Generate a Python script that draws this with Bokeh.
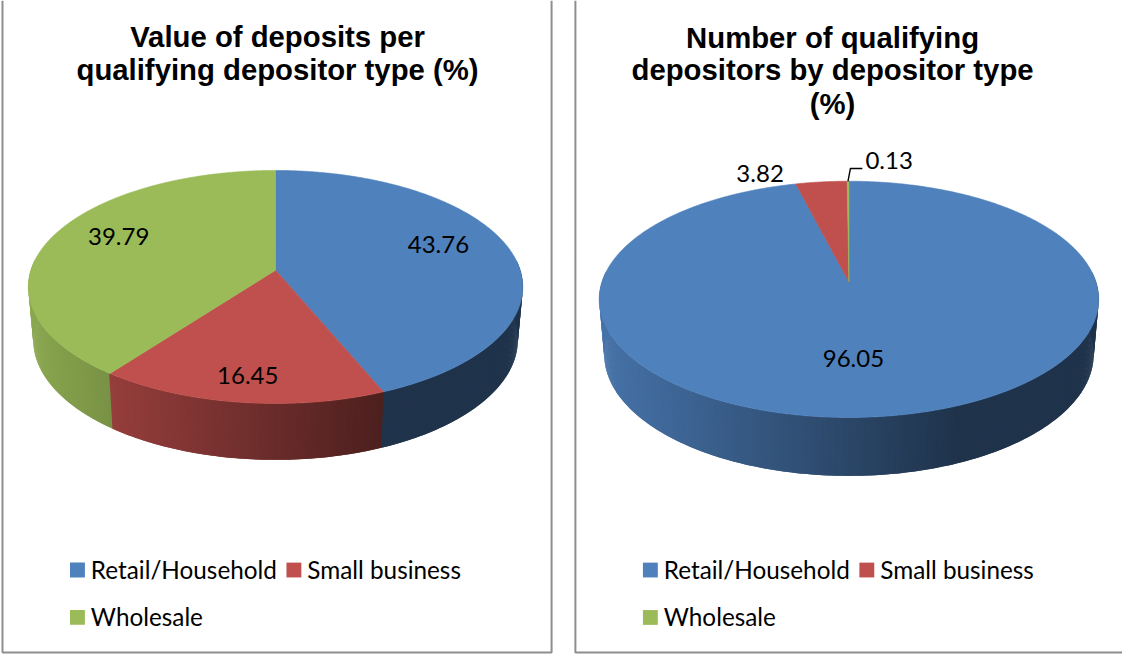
import numpy as np
from bokeh.embed import file_html
from bokeh.models import Range1d
from bokeh.plotting import figure
from bokeh.resources import INLINE
from bokeh.core.properties import value

categories = ["Retail/Household", "Small business", "Wholesale"]
value_share = [43.76, 16.45, 39.79]
number_share = [96.05, 3.82, 0.13]
colors = ["#4F81BD", "#C0504D", "#9BBB59"]
title_left = ["Value of deposits per", "qualifying depositor type (%)"]
title_right = ["Number of qualifying", "depositors by depositor type", "(%)"]
label_left = ["43.76", "16.45", "39.79"]
label_right = ["96.05", "3.82", "0.13"]

p = figure(width=1122, height=654, x_range=Range1d(0, 1130), y_range=Range1d(662, 0),
           toolbar_location=None, output_backend="svg", min_border=0,
           outline_line_color=None, background_fill_color="white")
p.axis.visible = False
p.grid.visible = False

BORDER = "#8E8E8E"
p.line([2, 2, 555, 555], [0, 660, 660, 0], line_color=BORDER, line_width=2)
p.line([579, 579, 1130], [0, 660, 660], line_color=BORDER, line_width=2)


def shade(hex_color, f):
    r, g, b = (int(hex_color[i:i + 2], 16) for i in (1, 3, 5))
    return "#%02x%02x%02x" % (int(r * f), int(g * f), int(b * f))


def project(theta_deg, cx, y0, a, b, k):
    t = np.radians(theta_deg)
    u, v = np.sin(t), -np.cos(t)
    s = 1 / (1 - k * v)
    return cx + b * u * s, y0 + a * v * s


def pie(vals, cx, y0, a, b, k, dy):
    edges = np.concatenate([[0], np.cumsum(vals)]) / sum(vals) * 360
    xl = cx - b * 1.012
    w = 2 * b * 1.012
    # side wall, painted as overlapping thin strips so that it darkens from left to right
    sx, sy, sc = [], [], []
    step = 0.5
    for t0 in np.arange(85, 275, step):
        idx = int(np.searchsorted(edges, t0 + step / 2) - 1)
        t1 = t0 + 2 * step  # runs under the strip painted next, which hides the overlap
        x0, y_0 = project(t0, cx, y0, a, b, k)
        x1, y_1 = project(t1, cx, y0, a, b, k)
        x2, y_2 = project(t1, cx, y0 + dy, a * 1.03, b * 0.98, k)
        x3, y_3 = project(t0, cx, y0 + dy, a * 1.03, b * 0.98, k)
        xm = (x0 + x3) / 2
        f = max(0.40, 0.90 - 0.50 * (xm - xl) / (0.717 * w))
        sx.append([x0, x1, x2, x3])
        sy.append([y_0, y_1, y_2, y_3])
        sc.append(shade(colors[idx], f))
    p.patches(sx, sy, fill_color=sc, line_color=None)
    # top face
    fx, fy = [], []
    for i in range(len(vals)):
        ts = np.linspace(edges[i], edges[i + 1], max(3, int((edges[i + 1] - edges[i]) * 2)))
        xs, ys = project(ts, cx, y0, a, b, k)
        fx.append(np.concatenate([[cx], xs]).tolist())
        fy.append(np.concatenate([[y0], ys]).tolist())
    p.patches(fx, fy, fill_color=colors, line_color=colors, line_width=0.6)


pie(value_share, 277, 273, 115.5, 246.4, 0.144, 53)
pie(number_share, 854.5, 285, 117, 248.8, 0.1465, 55)

LABEL_FONT = value("Lato")
TITLE_FONT = value("Liberation Sans")


def texts(xs, ys, strs, size, font, align="center", weight="normal"):
    p.text(xs, ys, text=strs, text_font=font, text_font_size=size,
           text_font_style=weight, text_align=align, text_baseline="middle",
           text_color="black")


texts([279, 279], [36, 70], title_left, "29.3px", TITLE_FONT, weight="bold")
texts([838, 838, 838], [37, 70, 104], title_right, "29.3px", TITLE_FONT, weight="bold")

texts([441, 249, 119], [247, 380, 239], label_left, "24px", LABEL_FONT)
texts([859, 765, 895], [362, 175, 162], label_right, "24px", LABEL_FONT)
p.line([853.5, 856, 868], [183, 170, 170], line_color="black", line_width=1.4)

for x_sq in (70, 647):
    sq_x = [x_sq, x_sq + 218, x_sq]
    sq_y = [569, 569, 617]
    p.quad(left=sq_x, right=[x + 15 for x in sq_x], top=sq_y, bottom=[y + 15 for y in sq_y],
           fill_color=colors, line_color=None)
    texts([x + 21 for x in sq_x], [576, 576, 624], categories, "24.3px", LABEL_FONT, align="left")

open("out.html", "w").write(file_html(p, INLINE))
